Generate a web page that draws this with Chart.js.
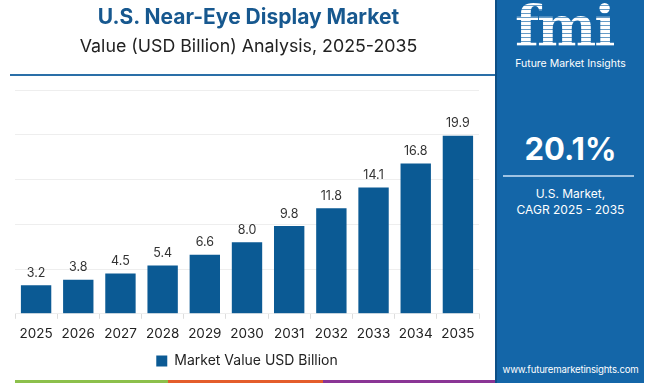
<!DOCTYPE html>
<html>
<head>
<meta charset="utf-8">
<script src="https://cdn.jsdelivr.net/npm/chart.js@4.4.1/dist/chart.umd.min.js"></script>
<style>
  body { margin: 0; width: 650px; height: 386px; background: #fff; position: relative; overflow: hidden; font-family: "Inter", "Noto Sans", sans-serif; }
  #title { position: absolute; left: 0; width: 497px; top: 4px; text-align: center; font-size: 21px; font-weight: 700; color: #17588f; }
  #subtitle { position: absolute; left: 0; width: 497px; top: 35px; text-align: center; font-size: 17.8px; color: #222; }
  #rule { position: absolute; left: 10px; width: 487px; top: 74px; height: 2px; background: #2a6fa8; }
  #panel { position: absolute; left: 495px; top: 0; width: 147px; height: 383px; background: #1466a8; border-left: 2px solid #0d4f86; }
  #logo { position: absolute; left: 18px; top: -6px; font-family: "DejaVu Serif", serif; font-weight: 700; font-size: 56px; line-height: 64px;
          background: repeating-linear-gradient(#fff 0 3px, rgba(255,255,255,0.35) 3px 4px); -webkit-background-clip: text; background-clip: text; color: transparent; letter-spacing: -2px; }
  #brand { position: absolute; left: 0; width: 147px; top: 57px; text-align: center; color: #fff; font-size: 10.5px; }
  #cagr { position: absolute; left: 0; width: 147px; top: 130px; text-align: center; color: #fff; font-size: 31px; font-weight: 700; }
  #cagrline { position: absolute; left: 6px; width: 131px; top: 175px; height: 2px; background: #9fc3e3; }
  #cagrtext { position: absolute; left: 0; width: 147px; top: 186px; text-align: center; color: #fff; font-size: 12px; line-height: 16px; }
  #site { position: absolute; left: 0; width: 147px; top: 364px; text-align: center; color: #fff; font-size: 9.6px; letter-spacing: -0.2px; white-space: nowrap; }
  .stripe { position: absolute; top: 380px; height: 3px; }
  #chartbox { position: absolute; left: 0; top: 0; width: 495px; height: 386px; }
</style>
</head>
<body>
<div id="chartbox"><canvas id="chart"></canvas></div>
<div id="title">U.S. Near-Eye Display Market</div>
<div id="subtitle">Value (USD Billion) Analysis, 2025-2035</div>
<div id="rule"></div>
<div class="stripe" style="left:15px;width:153px;background:#8cc04b"></div>
<div class="stripe" style="left:168px;width:155px;background:#e45d2b"></div>
<div class="stripe" style="left:323px;width:172px;background:#8a3595"></div>
<div id="panel">
  <div id="logo">fmi</div>
  <div id="brand">Future Market Insights</div>
  <div id="cagr">20.1%</div>
  <div id="cagrline"></div>
  <div id="cagrtext">U.S. Market,<br>CAGR 2025 - 2035</div>
  <div id="site">www.futuremarketinsights.com</div>
</div>
<script>
const years = ["2025", "2026", "2027", "2028", "2029", "2030", "2031", "2032", "2033", "2034", "2035"];
const marketValue = [3.2, 3.8, 4.5, 5.4, 6.6, 8.0, 9.8, 11.8, 14.1, 16.8, 19.9];
const seriesName = "Market Value USD Billion";
const barColor = "#0b5a94";

// value labels above each bar
const valueLabels = {
    id: "valueLabels",
    afterDatasetsDraw(chart) {
        const ctx = chart.ctx;
        const meta = chart.getDatasetMeta(0);
        ctx.save();
        ctx.font = "12.5px Inter, sans-serif";
        ctx.fillStyle = "#333";
        ctx.textAlign = "center";
        ctx.textBaseline = "bottom";
        meta.data.forEach((bar, i) => {
            ctx.fillText(marketValue[i].toFixed(1), bar.x, bar.y - 6);
        });
        ctx.restore();
    },
};

new Chart(document.getElementById("chart"), {
    type: "bar",
    data: {
        labels: years,
        datasets: [
            {
                label: seriesName,
                data: marketValue,
                backgroundColor: barColor,
                barPercentage: 0.72,
                categoryPercentage: 1.0,
            },
        ],
    },
    options: {
        responsive: true,
        maintainAspectRatio: false,
        animation: false,
        layout: { padding: { left: 15, right: 16, top: 90, bottom: 8 } },
        plugins: {
            legend: {
                position: "bottom",
                labels: {
                    boxWidth: 11,
                    boxHeight: 11,
                    padding: 5,
                    color: "#222",
                    font: { size: 14, family: "Inter" },
                },
            },
            tooltip: { enabled: false },
        },
        scales: {
            x: {
                grid: { offset: true, drawOnChartArea: false, tickLength: 5, color: "#ddd" },
                border: { color: "#eee" },
                ticks: { color: "#222", font: { size: 13.5, family: "Inter" }, padding: 7 },
            },
            y: {
                min: 0,
                max: 25,
                ticks: { display: false, stepSize: 5 },
                grid: { drawTicks: false, color: "#eeeeee" },
                border: { display: false },
            },
        },
    },
    plugins: [valueLabels],
});
</script>
</body>
</html>
